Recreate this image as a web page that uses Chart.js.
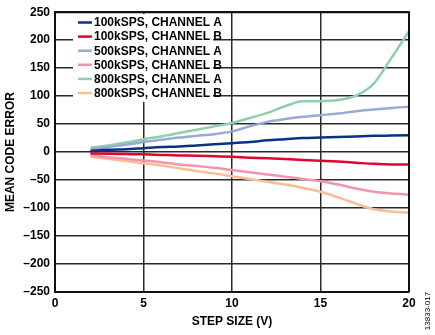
<!DOCTYPE html>
<html>
<head>
<meta charset="utf-8">
<script src="https://cdn.jsdelivr.net/npm/chart.js@4/dist/chart.umd.min.js"></script>
<style>
  html, body { margin: 0; padding: 0; background: #fff; }
</style>
</head>
<body>
<canvas id="grafico" width="435" height="335"></canvas>
<script>
// step size (V)
var passos = [2, 3, 4, 5, 6, 7, 8, 9, 10, 11, 12, 13, 14, 15, 16, 17, 18, 19, 20];

var ch100A = [2, 4, 5, 7, 9, 10, 12, 14, 16, 18, 21, 23, 25, 26, 27, 28, 29, 29.5, 30];
var ch100B = [-2, -3, -3.5, -4, -5, -6, -6.5, -7.5, -8.5, -10, -11, -12.5, -14, -15.5, -17, -19, -21, -22, -22];
var ch500A = [5, 9, 13, 18, 22, 26, 29, 32, 37, 46, 54, 59, 63, 66, 69, 73, 76, 79, 81];
var ch500B = [-5, -9, -12, -15, -18, -22, -25, -28, -32, -36, -40, -44, -48, -52, -58, -65, -71, -74, -76];
var ch800A = [8, 12, 17, 23, 28, 34, 40, 46, 52, 61, 70, 82, 91, 91, 93, 101, 122, 168, 216];
var ch800B = [-8, -12, -16, -20, -24, -29, -34, -38, -43, -48, -53, -58, -64, -71, -81, -92, -102, -106, -108];

var nomes = ['100kSPS, CHANNEL A', '100kSPS, CHANNEL B', '500kSPS, CHANNEL A',
             '500kSPS, CHANNEL B', '800kSPS, CHANNEL A', '800kSPS, CHANNEL B'];
var cores = ['#0a3282', '#e0062e', '#98aad6', '#f295a8', '#8fd0ac', '#fcbc94'];
var series = [ch100A, ch100B, ch500A, ch500B, ch800A, ch800B];

function pares(vals) {
    return passos.map((x, i) => ({ x: x, y: vals[i] }));
}

var conjuntos = series.map((s, i) => ({
    label: nomes[i],
    data: pares(s),
    borderColor: cores[i],
    backgroundColor: cores[i],
    borderWidth: 2.5,
    pointRadius: 0,
    tension: 0.4,
    cubicInterpolationMode: 'monotone',
    fill: false
}));

// top/right edges of the frame, legend box, figure code
var moldura = {
    id: 'moldura',
    afterDatasetsDraw(chart) {
        var a = chart.chartArea;
        var ctx = chart.ctx;
        ctx.save();
        ctx.strokeStyle = '#111';
        ctx.lineWidth = 2;
        ctx.beginPath();
        ctx.moveTo(a.left, a.top);
        ctx.lineTo(a.right, a.top);
        ctx.lineTo(a.right, a.bottom);
        ctx.stroke();
        ctx.restore();
    },
    afterDraw(chart) {
        var ctx = chart.ctx;
        ctx.save();
        ctx.fillStyle = '#fff';
        ctx.fillRect(73, 14, 140, 88);
        ctx.font = 'bold 12px "Liberation Sans", Arial, sans-serif';
        ctx.textBaseline = 'middle';
        ctx.textAlign = 'left';
        chart.data.datasets.forEach((d, i) => {
            var y = 22.5 + i * 14.1;
            ctx.strokeStyle = d.borderColor;
            ctx.lineWidth = 2.5;
            ctx.beginPath();
            ctx.moveTo(78, y);
            ctx.lineTo(92, y);
            ctx.stroke();
            ctx.fillStyle = '#000';
            ctx.fillText(d.label, 94, y + 0.5);
        });
        ctx.translate(428, 311);
        ctx.rotate(-Math.PI / 2);
        ctx.textAlign = 'center';
        ctx.font = '8px "Liberation Sans", Arial, sans-serif';
        ctx.fillStyle = '#000';
        ctx.fillText('13833-017', 0, 0);
        ctx.restore();
    }
};

var fonte = { family: '"Liberation Sans", Arial, sans-serif', size: 12, weight: 'bold' };

new Chart(document.getElementById('grafico'), {
    type: 'line',
    data: { datasets: conjuntos },
    options: {
        responsive: false,
        animation: false,
        layout: { padding: { left: 3, right: 26, top: 8, bottom: 0 } },
        plugins: { legend: { display: false }, tooltip: { enabled: false } },
        scales: {
            x: {
                type: 'linear',
                min: 0,
                max: 20,
                afterFit: (s) => { s.height = 43; },
                grid: { color: '#2a2a2a', lineWidth: 1.5, drawTicks: false },
                border: { color: '#111', width: 2 },
                ticks: { stepSize: 5, color: '#000', font: fonte, padding: 4, maxRotation: 0 },
                title: { display: true, text: 'STEP SIZE (V)', color: '#000', font: fonte, padding: { top: 0, bottom: 6 } }
            },
            y: {
                type: 'linear',
                min: -250,
                max: 250,
                afterFit: (s) => { s.width = 52; },
                grid: { color: '#2a2a2a', lineWidth: 1.5, drawTicks: false },
                border: { color: '#111', width: 2 },
                ticks: {
                    stepSize: 50, color: '#000', font: fonte, padding: 5,
                    callback: (v) => String(v).replace('-', '\u2013')
                },
                title: { display: true, text: 'MEAN CODE ERROR', color: '#000', font: fonte, padding: { top: 0, bottom: 0 } }
            }
        }
    },
    plugins: [moldura]
});
</script>
</body>
</html>
